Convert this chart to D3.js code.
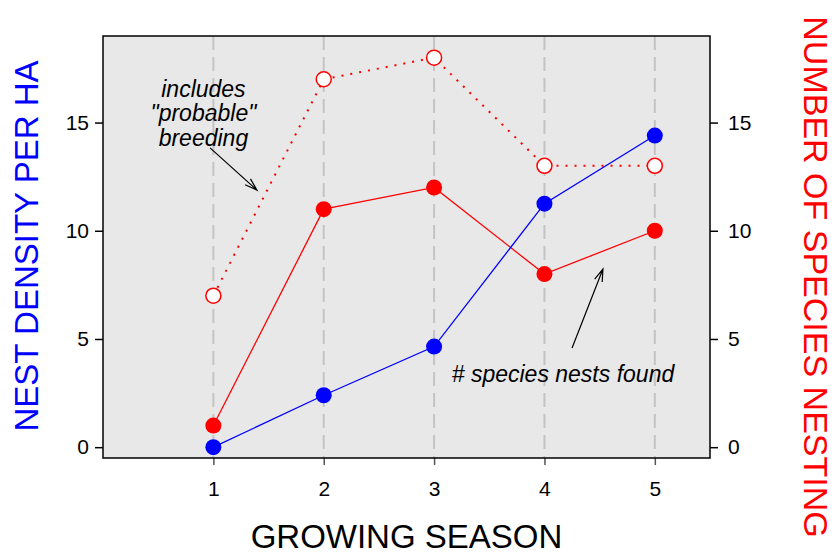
<!DOCTYPE html>
<html>
<head>
<meta charset="utf-8">
<script src="https://cdn.jsdelivr.net/npm/d3@7"></script>
<style>
  body { margin: 0; background: #fff; }
  svg text { font-family: Arial, "Liberation Sans", sans-serif; }
</style>
</head>
<body>
<div id="chart"></div>
<script>
// Data
const seasons = [1, 2, 3, 4, 5];
const nestDensity = [0, 2.4, 4.65, 11.25, 14.4];
const speciesNests = [1, 11, 12, 8, 10];
const speciesProbable = [7, 17, 18, 13, 13];
const leftTicks = [0, 5, 10, 15];
const rightTicks = [0, 5, 10, 15];

const width = 836;
const height = 554;
const plot = { left: 103, right: 710, top: 36, bottom: 458 };

const svg = d3.select('#chart')
    .append('svg')
    .attr('width', width)
    .attr('height', height);

const x = d3.scaleLinear().domain([0, 5.5]).range([plot.left, plot.right]);
const y = d3.scaleLinear().domain([-0.5, 19]).range([plot.bottom, plot.top]);

// background
svg.append('rect')
    .attr('x', plot.left).attr('y', plot.top)
    .attr('width', plot.right - plot.left)
    .attr('height', plot.bottom - plot.top)
    .attr('fill', '#e8e8e8');

// dashed vertical grid
svg.selectAll('.grid')
    .data(seasons)
    .enter()
    .append('line')
    .attr('x1', d => x(d)).attr('x2', d => x(d))
    .attr('y1', plot.top).attr('y2', plot.bottom)
    .attr('stroke', '#c4c4c4')
    .attr('stroke-width', 2)
    .attr('stroke-dasharray', '14,7');

// axes
const tickFont = g => g.selectAll('text')
    .style('font-size', '21px')
    .attr('fill', '#000');

svg.append('g')
    .attr('transform', `translate(0,${plot.bottom})`)
    .call(d3.axisBottom(x).tickValues(seasons).tickFormat(d3.format('d')).tickSize(7).tickPadding(16))
    .call(g => g.select('.domain').remove())
    .call(g => g.selectAll('line').attr('stroke', '#555').attr('stroke-width', 1.5))
    .call(tickFont);

svg.append('g')
    .attr('transform', `translate(${plot.left},0)`)
    .call(d3.axisLeft(y).tickValues(leftTicks).tickSize(8).tickPadding(6))
    .call(g => g.select('.domain').remove())
    .call(g => g.selectAll('line').attr('stroke-width', 1.5))
    .call(tickFont);

svg.append('g')
    .attr('transform', `translate(${plot.right},0)`)
    .call(d3.axisRight(y).tickValues(rightTicks).tickSize(8).tickPadding(10))
    .call(g => g.select('.domain').remove())
    .call(g => g.selectAll('line').attr('stroke-width', 1.5))
    .call(tickFont);

// lines
const line = vals => d3.line()
    .x((d, i) => x(seasons[i]))
    .y(d => y(d))(vals);

svg.append('path')
    .attr('d', line(speciesProbable))
    .attr('fill', 'none')
    .attr('stroke', '#ff0000')
    .attr('stroke-width', 2)
    .attr('stroke-dasharray', '2,7');

svg.append('path')
    .attr('d', line(speciesNests))
    .attr('fill', 'none')
    .attr('stroke', '#ff0000')
    .attr('stroke-width', 1.3);

svg.append('path')
    .attr('d', line(nestDensity))
    .attr('fill', 'none')
    .attr('stroke', '#0000ff')
    .attr('stroke-width', 1.3);

// points
svg.selectAll('.open')
    .data(speciesProbable)
    .enter()
    .append('circle')
    .attr('cx', (d, i) => x(seasons[i]))
    .attr('cy', d => y(d))
    .attr('r', 7.5)
    .attr('fill', '#fff')
    .attr('stroke', '#ff0000')
    .attr('stroke-width', 1.5);

svg.selectAll('.red')
    .data(speciesNests)
    .enter()
    .append('circle')
    .attr('cx', (d, i) => x(seasons[i]))
    .attr('cy', d => y(d))
    .attr('r', 8)
    .attr('fill', '#ff0000');

svg.selectAll('.blue')
    .data(nestDensity)
    .enter()
    .append('circle')
    .attr('cx', (d, i) => x(seasons[i]))
    .attr('cy', d => y(d))
    .attr('r', 8)
    .attr('fill', '#0000ff');

// frame
svg.append('rect')
    .attr('x', plot.left).attr('y', plot.top)
    .attr('width', plot.right - plot.left)
    .attr('height', plot.bottom - plot.top)
    .attr('fill', 'none')
    .attr('stroke', '#000')
    .attr('stroke-width', 1.5);

// annotations
const notes = [
    { text: 'includes', x: 0.91, y: 16.2 },
    { text: '"probable"', x: 0.91, y: 15.05 },
    { text: 'breeding', x: 0.91, y: 13.9 }
];
svg.selectAll('.note')
    .data(notes)
    .enter()
    .append('text')
    .attr('x', d => x(d.x))
    .attr('y', d => y(d.y))
    .attr('text-anchor', 'middle')
    .style('font-size', '23px')
    .style('font-style', 'italic')
    .text(d => d.text);

svg.append('text')
    .attr('x', x(3.16))
    .attr('y', y(3.0))
    .style('font-size', '23px')
    .style('font-style', 'italic')
    .text('# species nests found');

function arrow(from, to) {
    const x1 = x(from[0]), y1 = y(from[1]);
    const x2 = x(to[0]), y2 = y(to[1]);
    const ang = Math.atan2(y2 - y1, x2 - x1);
    const len = 13, spread = Math.PI / 10;
    const path = d3.path();
    path.moveTo(x1, y1);
    path.lineTo(x2, y2);
    path.moveTo(x2 - len * Math.cos(ang - spread), y2 - len * Math.sin(ang - spread));
    path.lineTo(x2, y2);
    path.lineTo(x2 - len * Math.cos(ang + spread), y2 - len * Math.sin(ang + spread));
    svg.append('path')
        .attr('d', path.toString())
        .attr('fill', 'none')
        .attr('stroke', '#000')
        .attr('stroke-width', 1.2);
}
arrow([0.97, 13.83], [1.395, 11.88]);
arrow([4.25, 4.58], [4.53, 8.23]);

// axis titles
svg.append('text')
    .attr('transform', `translate(38,${(plot.top + plot.bottom) / 2 - 1}) rotate(-90)`)
    .attr('text-anchor', 'middle')
    .attr('fill', '#0000ff')
    .style('font-size', '33px')
    .text('NEST DENSITY PER HA');

svg.append('text')
    .attr('transform', `translate(804,277) rotate(90)`)
    .attr('text-anchor', 'middle')
    .attr('fill', '#ff0000')
    .style('font-size', '34px')
    .text('NUMBER OF SPECIES NESTING');

svg.append('text')
    .attr('x', (plot.left + plot.right) / 2)
    .attr('y', 548)
    .attr('text-anchor', 'middle')
    .style('font-size', '33px')
    .text('GROWING SEASON');
</script>
</body>
</html>
